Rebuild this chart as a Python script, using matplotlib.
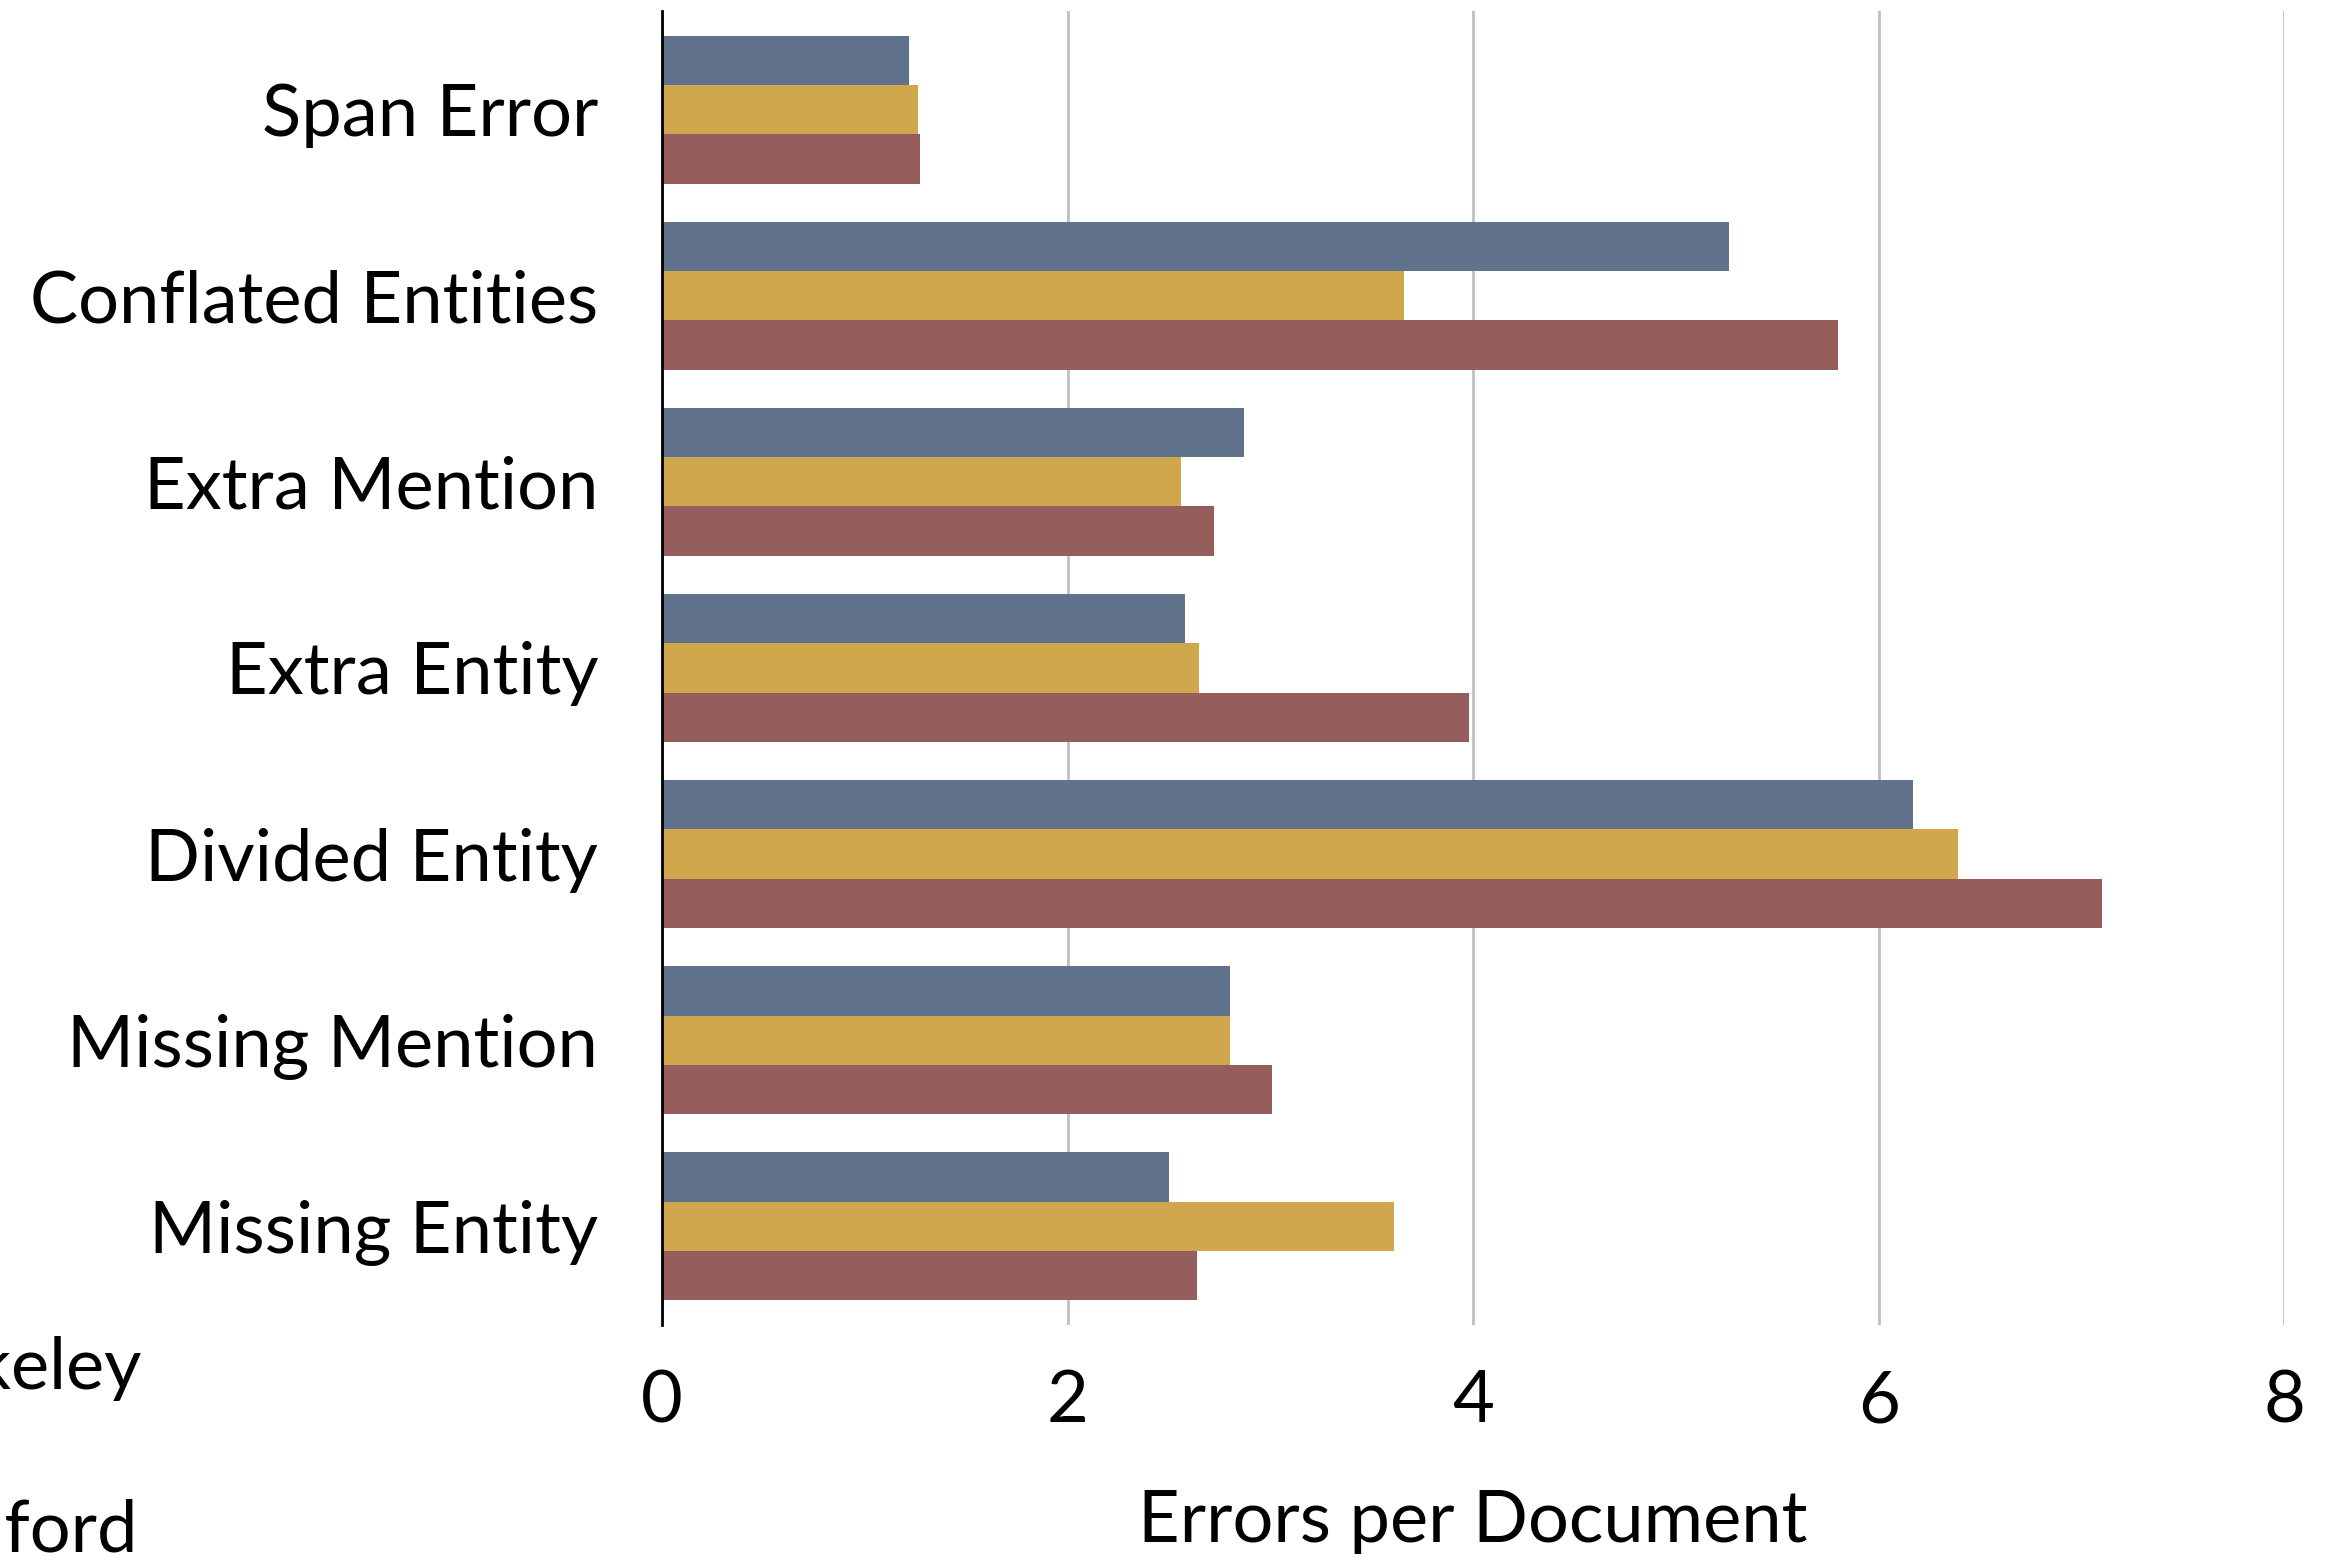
import numpy as np
import matplotlib
matplotlib.use("Agg")
import matplotlib.pyplot as plt

# Dados (erros por documento)
categorias = ["Span Error", "Conflated Entities", "Extra Mention", "Extra Entity",
              "Divided Entity", "Missing Mention", "Missing Entity"]
berkeley = [1.22, 5.26, 2.87, 2.58, 6.17, 2.80, 2.50]
stanford = [1.26, 3.66, 2.56, 2.65, 6.39, 2.80, 3.61]
terceiro = [1.27, 5.80, 2.72, 3.98, 7.10, 3.01, 2.64]
series_nomes = ["Berkeley", "Stanford", "IMS"]
xticks = [0, 2, 4, 6, 8]

cores = ["#61738C", "#D1A74D", "#955E5C"]

plt.rcParams['font.family'] = ['Lato', 'DejaVu Sans']
fs = 52

fig = plt.figure(figsize=(23.32, 15.57), dpi=100)
ax = fig.add_axes([0.2839, 0.149, 0.6956, 0.844])

n = len(categorias)
y = np.arange(n)[::-1]  # Span Error no topo
h = 0.265
for k, (vals, cor, nome) in enumerate(zip([berkeley, stanford, terceiro], cores, series_nomes)):
    ax.barh(y + h * (1 - k), vals, height=h, color=cor, label=nome, zorder=2)

ax.set_xlim(0, 8)
ax.set_ylim(-0.53, n - 1 + 0.53)
ax.set_xticks(xticks)
ax.set_xticklabels([str(t) for t in xticks], fontsize=fs)
ax.set_yticks(y)
ax.set_yticklabels(categorias, fontsize=fs)
ax.tick_params(axis='both', length=0)
ax.tick_params(axis='x', pad=32)
ax.tick_params(axis='y', pad=46)

ax.grid(axis='x', color='#C0C0C0', linewidth=2, zorder=0)
for lado in ['top', 'right', 'bottom']:
    ax.spines[lado].set_visible(False)
ax.spines['left'].set_linewidth(2)
ax.spines['left'].set_color('black')
ax.spines['left'].set_zorder(3)

ax.set_xlabel("Errors per Document", fontsize=fs, labelpad=39)

# Legenda parcialmente fora da figura (como no original)
fig.legend(loc='upper left', bbox_to_anchor=(-0.133, 0.184), fontsize=fs,
           frameon=False, labelspacing=1.35, handlelength=1.0, handletextpad=0.5)

fig.savefig("out.png", dpi=100)
